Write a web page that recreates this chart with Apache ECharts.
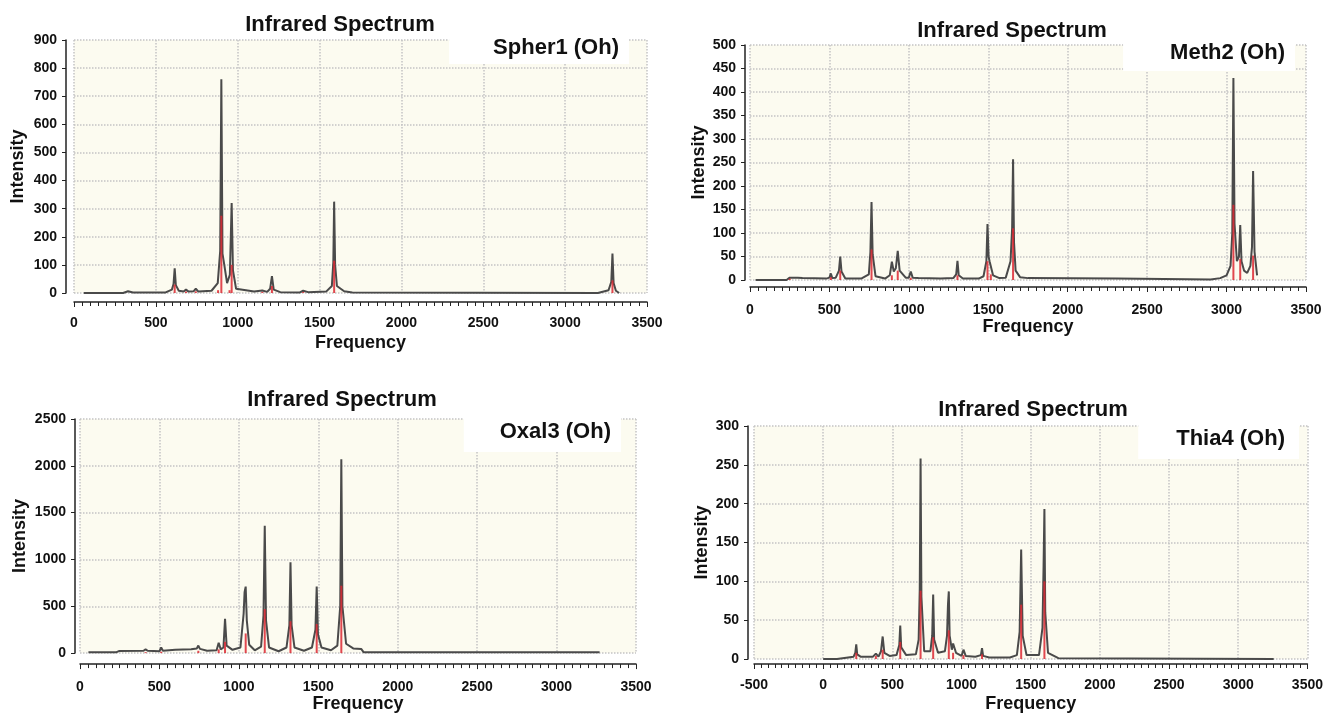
<!DOCTYPE html>
<html>
<head>
<meta charset="utf-8">
<title>Infrared Spectrum</title>
<script src="https://cdn.jsdelivr.net/npm/echarts@6/dist/echarts.min.js"></script>
<style>
    html, body { margin: 0; padding: 0; background: #fff; }
    #ir-charts { width: 1326px; height: 714px; }
</style>
</head>
<body>
<div id="ir-charts"></div>
<script>
// Spher1 (Oh)
var spher1Freq = [60, 300, 330, 360, 560, 598, 608, 615, 622, 640, 670, 684, 700, 730, 744, 760, 840, 878, 893, 900, 907, 918, 935, 952, 963, 971, 990, 1100, 1150, 1180, 1198, 1209, 1220, 1260, 1380, 1400, 1430, 1540, 1575, 1584, 1589, 1595, 1606, 1650, 1700, 3200, 3265, 3282, 3289, 3296, 3310, 3330];
var spher1Int = [0, 0, 6, 2, 2, 12, 32, 88, 28, 8, 5, 12, 5, 6, 15, 5, 8, 35, 150, 760, 140, 100, 35, 65, 320, 80, 15, 5, 9, 4, 15, 60, 12, 3, 2, 8, 3, 5, 25, 110, 325, 100, 25, 6, 2, 0, 10, 40, 140, 35, 8, 0];
var spher1StickFreq = [615, 684, 744, 880, 900, 950, 963, 1150, 1209, 1400, 1589, 3289];
var spher1StickInt = [30, 5, 6, 10, 275, 10, 100, 4, 25, 4, 115, 45];

// Meth2 (Oh)
var meth2Freq = [35, 230, 250, 300, 330, 480, 500, 509, 518, 540, 560, 568, 576, 600, 700, 748, 758, 765, 772, 790, 850, 880, 893, 905, 918, 930, 942, 980, 1000, 1012, 1024, 1060, 1200, 1280, 1298, 1306, 1314, 1340, 1440, 1470, 1488, 1495, 1502, 1508, 1516, 1530, 1570, 1610, 1640, 1650, 1656, 1662, 1672, 1700, 1750, 2310, 2316, 2900, 2960, 3000, 3025, 3036, 3043, 3050, 3065, 3078, 3086, 3094, 3110, 3130, 3150, 3160, 3167, 3176, 3192];
var meth2Int = [0, 0, 5, 5, 4, 3, 5, 14, 4, 5, 20, 50, 18, 3, 3, 12, 60, 166, 55, 8, 3, 10, 39, 18, 25, 62, 20, 5, 5, 18, 5, 4, 3, 4, 12, 41, 10, 3, 3, 8, 40, 119, 50, 40, 39, 10, 4, 5, 40, 110, 257, 80, 20, 6, 4, 3, 0, 1, 4, 10, 30, 100, 430, 120, 40, 50, 117, 40, 20, 15, 30, 70, 232, 60, 10];
var meth2StickFreq = [250, 509, 568, 765, 893, 930, 1012, 1306, 1495, 1516, 1656, 3043, 3086, 3167];
var meth2StickInt = [3, 6, 20, 65, 10, 20, 5, 10, 40, 12, 110, 160, 45, 52];

// Oxal3 (Oh)
var oxal3Freq = [53, 230, 245, 400, 413, 426, 500, 511, 522, 600, 700, 735, 745, 755, 800, 860, 873, 886, 903, 913, 923, 960, 1010, 1030, 1036, 1043, 1050, 1065, 1100, 1140, 1155, 1163, 1171, 1190, 1250, 1300, 1318, 1325, 1332, 1350, 1410, 1460, 1482, 1490, 1498, 1520, 1580, 1620, 1638, 1645, 1652, 1675, 1720, 1770, 1785, 3271];
var oxal3Int = [8, 10, 22, 25, 40, 25, 20, 60, 25, 35, 40, 50, 80, 45, 25, 30, 110, 40, 60, 365, 80, 35, 60, 420, 650, 710, 350, 90, 30, 70, 400, 1360, 350, 60, 20, 60, 300, 970, 300, 60, 25, 60, 250, 710, 200, 60, 30, 80, 500, 2070, 500, 100, 50, 45, 10, 8];
var oxal3StickFreq = [413, 511, 745, 873, 913, 1043, 1163, 1325, 1490, 1645];
var oxal3StickInt = [10, 15, 25, 40, 120, 210, 470, 340, 310, 720];

// Thia4 (Oh)
var thia4Freq = [0, 100, 110, 220, 232, 239, 246, 270, 360, 381, 400, 418, 430, 442, 480, 530, 550, 557, 564, 600, 670, 690, 698, 704, 710, 730, 775, 788, 795, 802, 830, 880, 895, 902, 908, 914, 930, 939, 960, 1000, 1014, 1030, 1100, 1140, 1148, 1156, 1200, 1350, 1400, 1420, 1431, 1442, 1470, 1560, 1585, 1593, 1599, 1605, 1625, 1700, 3256];
var thia4Int = [0, 0, 2, 3, 8, 19, 6, 3, 3, 7, 3, 10, 29, 8, 4, 5, 18, 43, 15, 5, 6, 25, 90, 258, 80, 10, 10, 30, 83, 25, 8, 10, 30, 70, 87, 30, 12, 20, 8, 4, 12, 4, 3, 5, 14, 4, 2, 2, 5, 35, 141, 30, 5, 5, 40, 120, 193, 60, 8, 1, 0];
var thia4StickFreq = [239, 381, 430, 557, 704, 795, 908, 939, 1014, 1148, 1431, 1599];
var thia4StickInt = [8, 4, 12, 22, 88, 28, 37, 8, 5, 6, 70, 100];

// axis ranges: [min, max, interval]
var spher1XRange = [0, 3500, 500];
var spher1YRange = [0, 900, 100];
var meth2XRange = [0, 3500, 500];
var meth2YRange = [0, 500, 50];
var oxal3XRange = [0, 3500, 500];
var oxal3YRange = [0, 2500, 500];
var thia4XRange = [-500, 3500, 500];
var thia4YRange = [0, 300, 50];

var FONT = '"Liberation Sans", Arial, sans-serif';

function pairs(xs, ys) {
    var out = [];
    for (var i = 0; i < xs.length; i++) {
        out.push([xs[i], ys[i]]);
    }
    return out;
}

// plain numbers, no thousands separator
function plain(v) {
    return String(v);
}

var panels = [
    {
        tag: 'Spher1 (Oh)', freq: spher1Freq, inten: spher1Int, stickFreq: spher1StickFreq, stickInt: spher1StickInt,
        xr: spher1XRange, yr: spher1YRange,
        grid: { left: 74, top: 40, width: 573, height: 253 },
        yOffset: 8, xOffset: 9, xMargin: 14, xNameGap: 32, yNameGap: 39,
        titleX: 340, titleY: 25,
        tagBox: { right: 697, top: 28, padding: [8, 10, 4, 44] }
    },
    {
        tag: 'Meth2 (Oh)', freq: meth2Freq, inten: meth2Int, stickFreq: meth2StickFreq, stickInt: meth2StickInt,
        xr: meth2XRange, yr: meth2YRange,
        grid: { left: 750, top: 45, width: 556, height: 235 },
        yOffset: 5, xOffset: 7, xMargin: 16, xNameGap: 30, yNameGap: 37,
        titleX: 1012, titleY: 31,
        tagBox: { right: 31, top: 33, padding: [8, 10, 6, 47] }
    },
    {
        tag: 'Oxal3 (Oh)', freq: oxal3Freq, inten: oxal3Int, stickFreq: oxal3StickFreq, stickInt: oxal3StickInt,
        xr: oxal3XRange, yr: oxal3YRange,
        grid: { left: 80, top: 419, width: 556, height: 236 },
        yOffset: 5, xOffset: 11, xMargin: 16, xNameGap: 29, yNameGap: 46,
        titleX: 342, titleY: 400,
        tagBox: { right: 705, top: 412, padding: [8, 10, 8, 36] }
    },
    {
        tag: 'Thia4 (Oh)', freq: thia4Freq, inten: thia4Int, stickFreq: thia4StickFreq, stickInt: thia4StickInt,
        xr: thia4XRange, yr: thia4YRange,
        grid: { left: 754, top: 426, width: 556, height: 234 },
        yOffset: 6, xOffset: 5, xMargin: 14, xNameGap: 31, yNameGap: 37,
        titleX: 1033, titleY: 410,
        tagBox: { right: 27, top: 419, padding: [8, 14, 8, 38] }
    }
];

var option = {
    animation: false,
    backgroundColor: '#fff',
    title: [], graphic: [], grid: [], xAxis: [], yAxis: [], series: []
};

panels.forEach(function (p, i) {
    option.grid.push({
        left: p.grid.left, top: p.grid.top, width: p.grid.width, height: p.grid.height,
        show: true, backgroundColor: '#fcfbf0', borderWidth: 0
    });

    option.xAxis.push({
        type: 'value', gridIndex: i,
        min: p.xr[0], max: p.xr[1], interval: p.xr[2],
        offset: p.xOffset,
        name: 'Frequency', nameLocation: 'middle', nameGap: p.xNameGap,
        nameTextStyle: { fontFamily: FONT, fontWeight: 'bold', fontSize: 18, color: '#111' },
        axisLine: { show: true, onZero: false, lineStyle: { color: '#222', width: 1.5 } },
        axisTick: { show: true, length: 5, lineStyle: { color: '#222' } },
        minorTick: { show: true, splitNumber: 10, length: 4, lineStyle: { color: '#222' } },
        axisLabel: { fontFamily: FONT, fontWeight: 'bold', fontSize: 14, color: '#111', margin: p.xMargin, formatter: plain },
        splitLine: { show: true, lineStyle: { color: '#c4c4c4', type: 'dotted', width: 1.5 } }
    });

    option.yAxis.push({
        type: 'value', gridIndex: i,
        min: p.yr[0], max: p.yr[1], interval: p.yr[2],
        offset: p.yOffset,
        name: 'Intensity', nameLocation: 'middle', nameGap: p.yNameGap,
        nameTextStyle: { fontFamily: FONT, fontWeight: 'bold', fontSize: 18, color: '#111' },
        axisLine: { show: true, onZero: false, lineStyle: { color: '#222', width: 1.5 } },
        axisTick: { show: true, length: 4, lineStyle: { color: '#222' } },
        axisLabel: { fontFamily: FONT, fontWeight: 'bold', fontSize: 14, color: '#111', margin: 9, formatter: plain },
        splitLine: { show: true, lineStyle: { color: '#c4c4c4', type: 'dotted', width: 1.5 } }
    });

    // spectrum curve
    option.series.push({
        type: 'line', xAxisIndex: i, yAxisIndex: i,
        data: pairs(p.freq, p.inten),
        showSymbol: false, silent: true, z: 3,
        lineStyle: { color: '#4a4a4a', width: 2 }
    });

    // stick spectrum in red
    option.series.push({
        type: 'bar', xAxisIndex: i, yAxisIndex: i,
        data: pairs(p.stickFreq, p.stickInt),
        barWidth: 2, silent: true, z: 4,
        itemStyle: { color: 'rgba(220, 40, 50, 0.85)' }
    });

    option.graphic.push({
        type: 'text', x: p.titleX, y: p.titleY, z: 10,
        style: {
            text: 'Infrared Spectrum', fill: '#111',
            font: 'bold 22px ' + FONT,
            align: 'center', verticalAlign: 'middle',
            textAlign: 'center', textVerticalAlign: 'middle'
        }
    });

    option.title.push({
        text: p.tag, right: p.tagBox.right, top: p.tagBox.top,
        padding: p.tagBox.padding, backgroundColor: '#fff',
        textStyle: { fontFamily: FONT, fontWeight: 'bold', fontSize: 22, lineHeight: 24, color: '#111' }
    });
});

var myChart = echarts.init(document.getElementById('ir-charts'));
myChart.setOption(option);
</script>
</body>
</html>
